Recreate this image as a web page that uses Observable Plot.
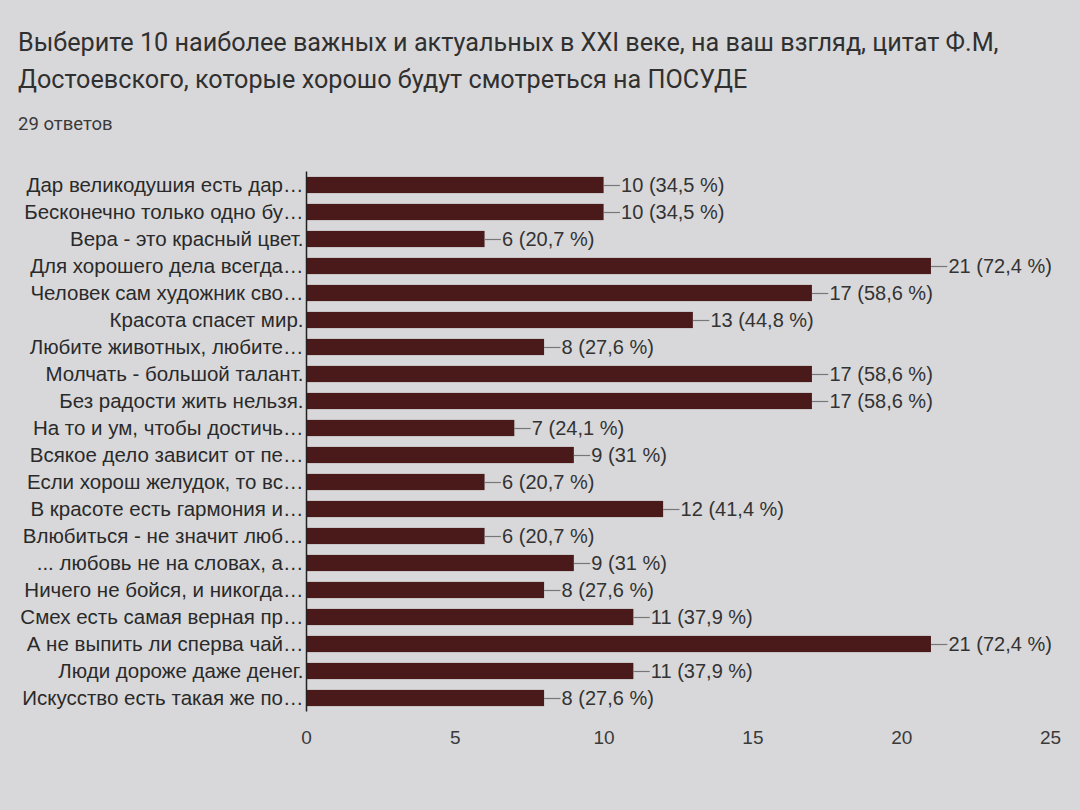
<!DOCTYPE html>
<html>
<head>
<meta charset="utf-8">
<script src="https://cdn.jsdelivr.net/npm/d3@7"></script>
<script src="https://cdn.jsdelivr.net/npm/@observablehq/plot@0.6"></script>
<style>
  html, body { margin: 0; padding: 0; background: #d8d8da; }
  body { width: 1080px; height: 810px; position: relative; overflow: hidden; font-family: "Liberation Sans", Arial, sans-serif; color: #2b2b2b; }
  #title { position: absolute; left: 18px; top: 24px; font-family: Roboto, "Liberation Sans", sans-serif; font-size: 25.2px; line-height: 37px; color: #303030; }
  #sub { position: absolute; left: 18px; top: 113px; font-family: Roboto, "Liberation Sans", sans-serif; font-size: 18.5px; color: #3a3a3a; }
  #chart { position: absolute; left: 0; top: 150px; }
</style>
</head>
<body>
<div id="title">Выберите 10 наиболее важных и актуальных в XXI веке, на ваш взгляд, цитат Ф.М,<br>Достоевского, которые хорошо будут смотреться на ПОСУДЕ</div>
<div id="sub">29 ответов</div>
<div id="chart"></div>
<script>
const categories = [
  "Дар великодушия есть дар…",
  "Бесконечно только одно бу…",
  "Вера - это красный цвет.",
  "Для хорошего дела всегда…",
  "Человек сам художник сво…",
  "Красота спасет мир.",
  "Любите животных, любите…",
  "Молчать - большой талант.",
  "Без радости жить нельзя.",
  "На то и ум, чтобы достичь…",
  "Всякое дело зависит от пе…",
  "Если хорош желудок, то вс…",
  "В красоте есть гармония и…",
  "Влюбиться - не значит люб…",
  "... любовь не на словах, а…",
  "Ничего не бойся, и никогда…",
  "Смех есть самая верная пр…",
  "А не выпить ли сперва чай…",
  "Люди дороже даже денег.",
  "Искусство есть такая же по…"
];
const counts = [10, 10, 6, 21, 17, 13, 8, 17, 17, 7, 9, 6, 12, 6, 9, 8, 11, 21, 11, 8];
const percents = ["34,5", "34,5", "20,7", "72,4", "58,6", "44,8", "27,6", "58,6", "58,6", "24,1", "31", "20,7", "41,4", "20,7", "31", "27,6", "37,9", "72,4", "37,9", "27,6"];
const xTicks = [0, 5, 10, 15, 20, 25];

const data = categories.map((c, i) => ({label: c, value: counts[i], pct: percents[i]}));

const barColor = "#4a1a1b";
const plot = Plot.plot({
  width: 1080,
  height: 612,
  marginLeft: 306,
  marginRight: 30,
  marginTop: 21.5,
  marginBottom: 50.5,
  style: {background: "transparent", fontFamily: "'Liberation Sans', Arial, sans-serif", color: "#2b2b2b"},
  x: {domain: [0, 25], ticks: xTicks, label: null},
  y: {domain: categories, paddingInner: 0.4, paddingOuter: 0.2, round: false, label: null},
  marks: [
    Plot.barX(data, {x: "value", y: "label", fill: barColor}),
    Plot.ruleY(data, {y: "label", x1: "value", x2: d => d.value + 0.55, stroke: "#777", strokeWidth: 1.2}),
    Plot.text(data, {x: "value", y: "label", text: d => `${d.value} (${d.pct} %)`, textAnchor: "start", dx: 17, fontSize: 20, fill: "#333"}),
    Plot.ruleX([0], {stroke: "#222", strokeWidth: 1.5}),
    Plot.axisY({tickSize: 0, tickPadding: 3, fontSize: 20.5, fill: "#2a2a2a", textOverflow: null}),
    Plot.axisX({ticks: xTicks, tickSize: 0, tickPadding: 18, fontSize: 19, fill: "#3a3a3a", anchor: "bottom"})
  ]
});
document.getElementById("chart").appendChild(plot);
</script>
</body>
</html>
